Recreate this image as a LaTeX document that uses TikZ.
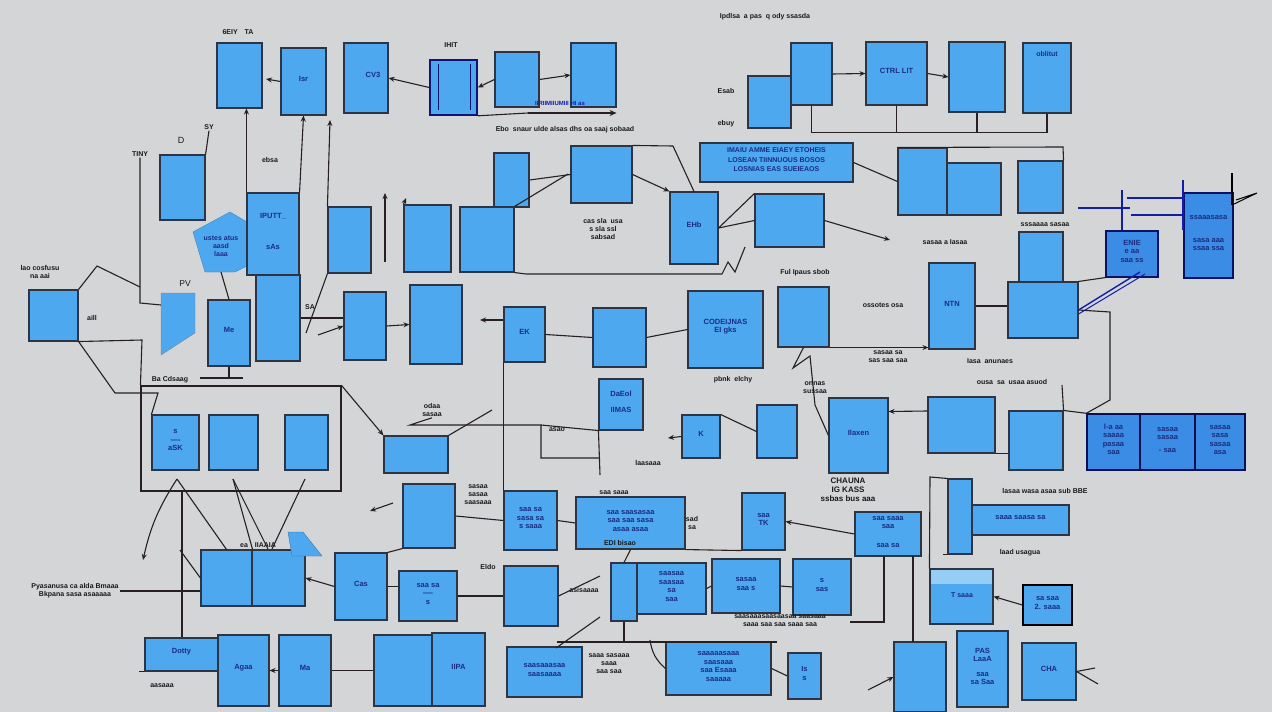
\documentclass[tikz,border=0pt]{standalone}
\usepackage{fontspec}
\setmainfont{Liberation Sans}
\usetikzlibrary{fit,arrows.meta}
\definecolor{bgc}{RGB}{211,213,215}
\definecolor{boxc}{RGB}{77,168,240}
\definecolor{bordc}{RGB}{45,52,68}
\definecolor{lnc}{RGB}{40,32,32}
\definecolor{dblue}{RGB}{18,30,170}
\definecolor{tblue}{RGB}{25,45,130}
\definecolor{panc}{RGB}{58,140,228}
\definecolor{lightb}{RGB}{150,205,245}
\tikzset{
 bxs/.style={draw=bordc, fill=boxc, line width=1.1pt, inner sep=0pt,
   font=\fontsize{7.5}{8.5}\selectfont\bfseries, text=tblue, align=center},
 ln/.style={draw=lnc, line width=1.1pt},
 txt/.style={font=\fontsize{7}{8}\selectfont\bfseries, text=black!90, inner sep=1pt, align=center},
 blt/.style={draw=dblue, line width=2.4pt},
 >={Stealth[length=6pt,width=5pt]}
}
\newcommand\bx[7][]{\node[bxs,fit={(#3,#4) (#5,#6)},#1] (#2) {#7};}
\begin{document}
\begin{tikzpicture}[x=1pt,y=-1pt]
\fill[bgc] (0,0) rectangle (1272,712);
\useasboundingbox (0,0) rectangle (1272,712);

% ---------- top row
\bx{a1}{217}{43}{262}{108}{}
\bx{a2}{281}{48}{326}{115}{Isr}
\bx{a3}{344}{43}{388}{113}{\hspace*{14pt}CV3}
\bx[draw=dblue!70!black,line width=1.6pt]{a4}{430}{60}{477}{115}{}
\draw[draw=dblue!60!black, line width=1pt] (438,64) -- (438,110) (470,64) -- (470,110);
\bx{a5}{495}{52}{539}{107}{}
\bx{a6}{571}{43}{616}{107}{}
\node[txt,text=dblue,font=\fontsize{6}{7}\selectfont\bfseries] (t0) at (560,103) {IIRIIMIIUMIII HI as};
\bx{b7}{748}{76}{791}{128}{}
\bx{b8}{791}{43}{832}{105}{}
\bx{b9}{866}{42}{927}{105}{CTRL LIT}
\bx{b10}{949}{42}{1005}{112}{}
\bx{b11}{1023}{43}{1071}{113}{}
\node[txt,text=tblue] (t0b) at (1047,54) {oblitut};

% ---------- second row
\fill[boxc,draw=boxc!80!black] (193,232) -- (230,212) -- (247,222) -- (247,266) -- (235,272) -- (205,272) -- (196,242) -- cycle;
\node[txt,text=tblue] (c13) at (221,246) {ustes atus\\ aasd\\ laaa};
\bx{c12}{160}{155}{205}{220}{}
\bx{c14}{247}{193}{299}{275}{IPUTT\_\\[22pt] sAs}
\bx{c15}{328}{207}{371}{273}{}
\bx{c16}{404}{205}{451}{272}{}
\bx{c17}{460}{207}{514}{272}{}
\bx{c18}{494}{153}{529}{207}{}
\bx{c19}{571}{146}{632}{203}{}
\bx{c20}{670}{192}{718}{264}{EHb}
\bx{c21}{755}{194}{824}{247}{}
\bx[font=\fontsize{7}{9.5}\selectfont\bfseries]{c22}{700}{143}{853}{182}{IMAIU AMME EIAEY ETOHEIS\\ LOSEAN TIINNUOUS BOSOS\\ LOSNIAS EAS SUEIEAOS}
\bx{c23a}{898}{148}{947}{215}{}
\bx{c23b}{947}{163}{1001}{215}{}
\bx{c24}{1018}{161}{1063}{213}{}
\bx{c25}{1019}{232}{1063}{282}{}
\bx{c26}{1008}{282}{1078}{338}{}
\bx[fill=panc,draw=dblue!60!black]{c27}{1106}{231}{1158}{277}{ENIE\\ e aa\\ saa ss}
\bx[fill=panc,draw=dblue!60!black]{c28}{1184}{193}{1233}{278}{ssaaasasa\\[14pt] sasa aaa\\ ssaa ssa}

% ---------- third row
\bx{d29}{29}{290}{78}{341}{}
\fill[boxc,draw=bordc!60] (161,293) -- (195,293) -- (195,333) -- (161,355) -- cycle;
\coordinate (d30) at (161,305);
\bx{d31}{208}{300}{250}{366}{Me}
\bx{d32}{256}{275}{300}{361}{}
\bx{d33}{344}{292}{386}{360}{}
\bx{d34}{410}{285}{462}{364}{}
\bx{d35}{504}{307}{545}{362}{EK}
\bx{d36}{593}{308}{646}{367}{}
\bx{d37}{688}{291}{763}{368}{CODEIJNAS\\ EI gks\\[30pt]}
\bx{d38}{778}{287}{829}{347}{}
\bx{d39}{929}{263}{975}{349}{NTN}

% ---------- fourth row
\node[ln, draw, fit={(141,386) (341,491)}, inner sep=0pt] (e40) {};
\bx{e40a}{152}{415}{199}{470}{s\\ ----\\ aSK}
\bx{e40b}{209}{415}{258}{470}{}
\bx{e40c}{285}{415}{328}{470}{}
\bx{e41}{384}{436}{448}{473}{}
\bx{e42}{599}{379}{643}{430}{DaEol\\[8pt] IIMAS}
\bx{e43}{682}{415}{720}{458}{K}
\bx{e44}{757}{405}{797}{458}{}
\bx{e45}{829}{398}{888}{473}{Ilaxen}
\bx{e46}{928}{397}{995}{453}{}
\bx{e47}{1009}{411}{1063}{470}{}
\bx[fill=panc,draw=dblue!50!black,line width=1.4pt]{e48a}{1087}{414}{1140}{470}{l-a aa\\ saaaa\\ pasaa\\ saa}
\bx[fill=panc,draw=dblue!50!black,line width=1.4pt]{e48b}{1140}{414}{1195}{470}{sasaa\\ sasaa\\[4pt] - saa}
\bx[fill=panc,draw=dblue!50!black,line width=1.4pt]{e48c}{1195}{414}{1245}{470}{sasaa\\ sasa\\ sasaa\\ asa}

% ---------- fifth row
\bx{f49}{403}{484}{455}{548}{}
\bx{f50}{504}{491}{557}{550}{saa sa\\ sasa sa\\ s saaa}
\bx{f51}{576}{497}{685}{549}{saa saasasaa\\ saa saa sasa\\ asaa asaa}
\bx{f52}{742}{493}{785}{550}{saa\\ TK}
\bx{f53}{855}{512}{921}{556}{saa saaa\\ saa\\[10pt] saa sa}
\bx{f54a}{948}{479}{972}{554}{}
\bx{f54b}{972}{505}{1069}{535}{saaa saasa sa}
\bx{g55a}{201}{550}{252}{606}{}
\bx{g55b}{252}{550}{305}{606}{}
\fill[boxc,draw=boxc!70!black] (288,532) -- (303,532) -- (322,556) -- (292,556) -- cycle;
\bx{g56}{335}{553}{387}{620}{Cas}
\bx{g57}{399}{571}{457}{621}{saa sa\\ ----\\ s}
\bx{g58}{504}{566}{558}{626}{}
\bx{g59a}{611}{563}{637}{621}{}
\bx{g59b}{637}{563}{706}{614}{saasaa\\ saasaa\\ sa\\ saa}
\bx{g60}{712}{559}{780}{613}{sasaa\\ saa s}
\bx{g61}{793}{559}{851}{615}{s\\ sas}
\bx{g62}{930}{569}{993}{624}{}
\fill[lightb] (931,570) rectangle (992,584);
\node[txt,text=tblue] (g62t) at (962,595) {T saaa};
\bx[draw=black,line width=1.4pt]{g63}{1023}{585}{1072}{625}{sa saa\\ 2. saaa}

% ---------- bottom row
\bx{h64}{145}{638}{218}{671}{Dotty}
\bx{h65}{218}{635}{269}{706}{Agaa}
\bx{h66}{279}{635}{331}{706}{Ma}
\bx{h67a}{374}{635}{432}{706}{}
\bx{h67b}{432}{633}{485}{706}{IIPA}
\bx{h68}{507}{647}{582}{697}{saasaaasaa\\ saasaaaa}
\bx{h69}{666}{642}{771}{695}{saaaaasaaa\\ saasaaa\\ saa Esaaa\\ saaaaa}
\bx{h70}{788}{653}{821}{699}{Is\\ s}
\bx{h71}{894}{642}{946}{712}{}
\bx{h72}{957}{631}{1008}{707}{PAS\\ LaaA\\[6pt] saa\\ sa Saa}
\bx{h73}{1022}{643}{1076}{700}{CHA}

% ---------- free text
\node[txt] (t1) at (238,32) {6EIY\quad TA};
\node[txt] (t2) at (451,45) {IHIT};
\node[txt] (t3) at (765,17) {Ipdlsa\ \ a pas\ \ q ody ssasda};
\node[txt] (t4) at (726,91) {Esab};
\node[txt] (t5) at (726,124) {ebuy};
\node[txt] (t6) at (140,154) {TINY};
\node[txt,font=\fontsize{9}{10}\selectfont] (t7) at (181,140) {D};
\node[txt] (t8) at (209,127) {SY};
\node[txt] (t9) at (270,160) {ebsa};
\node[txt] (t10) at (565,130) {Ebo\ \ snaur ulde alsas dhs oa saaj sobaad};
\node[txt] (t11) at (603,229) {cas sla\ \ usa\\ s sla ssl\\ sabsad};
\node[txt] (t12) at (805,273) {Ful Ipaus sbob};
\node[txt] (t13) at (883,305) {ossotes osa};
\node[txt] (t14) at (40,272) {lao cosfusu\\ na aai};
\node[txt] (t15) at (92,318) {aill};
\node[txt,font=\fontsize{8.5}{9}\selectfont] (t16) at (185,284) {PV};
\node[txt] (t17) at (170,380) {Ba Cdsaag};
\node[txt] (t18) at (310,307) {SA};
\node[txt] (t19) at (432,410) {odaa\\ sasaa};
\node[txt] (t20) at (557,430) {asao};
\node[txt] (t21) at (648,463) {laasaaa};
\node[txt] (t22) at (733,380) {pbnk\ \ elchy};
\node[txt] (t23) at (815,388) {onnas\\ sussaa};
\node[txt] (t24) at (888,357) {sasaa sa\\ sas saa saa};
\node[txt] (t25) at (990,361) {Iasa\ \ anunaes};
\node[txt] (t26) at (1012,382) {ousa\ \ sa\ \ usaa asuod};
\node[txt] (t27) at (945,242) {sasaa a Iasaa};
\node[txt] (t28) at (1045,225) {sssaaaa sasaa};
\node[txt] (t29) at (478,495) {sasaa\\ sasaa\\ saasaaa};
\node[txt,font=\fontsize{8}{9}\selectfont\bfseries] (t30) at (848,490) {CHAUNA\\ IG KASS\\ ssbas bus aaa};
\node[txt] (t31) at (1045,491) {lasaa wasa asaa sub BBE};
\node[txt] (t32) at (1020,553) {laad usagua};
\node[txt] (t33) at (75,591) {Pyasanusa ca alda Bmaaa\\ Bkpana sasa asaaaaa};
\node[txt] (t34) at (162,686) {aasaaa};
\node[txt] (t35) at (488,567) {Eldo};
\node[txt] (t36) at (584,590) {asisaaaa};
\node[txt] (t37) at (609,664) {saaa sasaaa\\ saaa\\ saa saa};
\node[txt] (t38) at (780,621) {saasaaasaasaasaa saasaaa\\ saaa saa saa saaa saa};
\node[txt] (t39) at (620,543) {EDI bisao};
\node[txt] (t40) at (258,545) {ea\quad IIAAIA};
\node[txt] (t41) at (614,493) {saa saaa};
\node[txt] (t42) at (692,523) {sad\\ sa};

% ---------- connectors
\coordinate (p1) at (266,79);
\draw[ln,->] (a2.west) -- (p1);
\draw[ln,->] (a4.west) -- (a3.east);
\draw[ln,->] (a5.west) -- (a4.east);
\draw[ln,->] (a5.east) -- (a6.west);
\draw[ln] (a4.south east) -- (528,113);
\draw[lnc, line width=2.2pt, -{Stealth[length=7pt,width=6pt]}] (528,113) -- (a6.south east |- 528,113);
\draw[ln,->] (c14.north west) -- (c14.north west |- a1.south);
\draw[ln,->] (c14.north east) -- (a2.south);
\coordinate (p2) at (330,120);
\draw[ln,->] (c15.north west) -- (p2);
\draw[ln] (t6.south) -- (140,303) -- (d30);
\draw[ln] (c12.north east) -- (t8.south);
\draw[ln] (d29.north east) -- (97,266) -- (140,287);
\draw[ln] (d29.south east) -- (142,340) -- (e40.north west);
\draw[ln] (d29.south east) -- (115,393) -- (158,393) -- (e40a.north west);
\draw[ln] (d31.north) -- (c13 |- 0,272);
\draw[ln] (d31.south) -- (229,378);
\draw[ln] (200,378) -- (243,378);
\draw[ln] (c15.south west) -- (306,333);
\draw[ln,->] (318,335) -- (d33.west);
\draw[ln,->] (d33.east) -- (d34.west);
\draw[ln] (d32.east) -- (d33.west |- d32.east);
\coordinate (p3) at (385,193);
\draw[ln,->] (385,262) -- (p3);
\coordinate (p4) at (406,198);
\draw[ln,->] (c16.north west) -- (p4);
\draw[ln] (c18.east) -- (c19.west);
\draw[ln] (c17.north east) -- (568,174);
\draw[ln] (c19.north east) -- (673,146) -- (c20.north);
\draw[ln,->] (c19.east) -- (c20.north west);
\draw[ln] (c20.east) -- (c21.north west);
\draw[ln] (c20.east) -- (c21.west);
\coordinate (p5) at (890,240);
\draw[ln,->] (c21.east) -- (p5);
\draw[ln] (c22.east) -- (c23a.west);
\draw[ln] (c23a.north west) -- (1063,147) -- (c24.north east);
\draw[ln] (b8.south) -- ++(0,27) -| (b11.south);
\draw[ln] (b9.south) -- ++(0,27);
\draw[ln] (b10.south) -- ++(0,20);
\draw[ln,->] (b8.east) -- (b9.west);
\draw[ln,->] (b9.east) -- (b10.west);
\draw[ln] (c26.east) -- (1110,312) -- (1110,400) -- (e48a.north west);
\draw[ln] (c26.north east) -- (c27.south west);
\draw[dblue, line width=1.4pt] (c26.east) -- (1140,272);
\draw[dblue, line width=1pt] ([yshift=-4pt]c26.east) -- (1145,274);
\draw[blt] (1078,208) -- (1130,208);
\draw[blt] (1127,198) -- (1185,198);
\draw[blt] (1131,215) -- (1183,215);
\draw[blt] (1122,190) -- (1122,230);
\draw[dblue, line width=1.6pt] (1183,180) -- (1183,230);
\draw[black, line width=1.6pt] (1232,173) -- (1232,205);
\draw[black, line width=1pt] (1232,205) -- (1257,193) -- (1236,200);
\draw[ln] (d39.east) -- (c26.west |- d39.east);
\draw[ln,->] (d38.south east) -- (d39.west |- d38.south east);
\draw[ln] (d35.east) -- (d36.west);
\draw[ln] (d36.east) -- (d37.west);
\coordinate (p6) at (480,320);
\draw[ln,->] (d35.west |- p6) -- (p6);
\draw[ln] (c17.south east) -- (526,274) -- (722,274) -- (728,262) -- (735,272) -- (745,247);
\draw[ln] (d35.south west) -- (f50.north west);
\draw[ln] (t19.south) -- (410,425) -- (541,425) -- (541,458) -- (600,458);
\draw[ln] (e42.south west) -- (600,475);
\draw[ln] (541,425) -- (e42.south west);
\coordinate (p7) at (668,438);
\draw[ln,->] (e43.west) -- (p7);
\draw[ln] (e43.north east) -- (e44.west);
\draw[ln] (d38.south) -- (793,368) -- (810,356) -- (815,405) -- (e45.west);
\draw[ln,->] ([yshift=14pt]e46.west) -- ([yshift=24pt]e45.east);
\draw[ln] (e46.south east) -- (e47.west |- e46.south east);
\draw[ln] (e47.north east) -- (e48a.north west);
\draw[ln] (1062,385) -- (e47.north east);
\draw[ln,->] (e40.north east) -- (e41.north west);
\draw[ln] (e41.north east) -- (492,410);
\coordinate (p8) at (143,560);
\draw[ln,->] (177,479) to[bend right=10] (p8);
\draw[ln] (177,479) -- (g55a.north);
\draw[ln] (233,479) -- (g55a.north east);
\draw[ln] (233,479) -- (268,549);
\draw[ln] (305,479) -- (272,549);
\draw[ln] (182,491) -- (h64.north west -| 182,0);
\draw[ln] (180,550) -- (g55a.west);
\draw[ln] (t33.east) -- (g55a.west |- t33.east);
\draw[ln,->] (g56.west) -- (g55b.east);
\draw[ln] (g56.north east) -- (f49.south west);
\draw[ln] (g56.east) -- (g57.west |- g56.east);
\coordinate (p9) at (370,511);
\draw[ln,->] (393,503) -- (p9);
\draw[ln,->] (h66.west) -- (h65.east);
\draw[ln] (h66.east) -- (h67a.west);
\draw[ln] (h64.south west) -- ++(-5,0);
\draw[ln] (f49.east) -- (f50.west);
\draw[ln] (f50.east) -- (f51.west);
\draw[ln] (f51.south) -- (g59a.north);
\draw[ln] (f51.south east) -- (f52.south west);
\draw[ln,->] (f53.west) -- (f52.east);
\draw[ln] (884,556) -- (884,622) -- (850,622);
\draw[ln] (913,556) -- (913,642);
\draw[ln] (f54a.north west) -- (930,477) -- (g62.north west);
\draw[ln] (f54a.south west) -- ++(-4,0);
\draw[ln,->] (g63.west) -- (g62.east);
\coordinate (p10) at (868,690);
\draw[ln,->] (p10) -- (h71.west);
\coordinate (p11) at (1098,684);
\draw[ln] (h73.east) -- (p11);
\draw[ln] (h73.east) -- (1095,668);
\draw[ln] (h69.west) to[bend left=20] (650,640);
\draw[ln] (h69.east) -- (h70.west);
\draw[ln] (g59b.east) -- (g60.west);
\draw[ln] (g60.east) -- (g61.west);
\draw[ln] (g57.east) -- (g58.west);
\draw[ln] (557,642) -- (777,642);
\draw[ln] (g59a.south) -- (g59a.south |- 0,642);
\draw[ln] (556,648) -- (600,617);
\draw[ln] (g58.east) -- (600,576);
\end{tikzpicture}
\end{document}
